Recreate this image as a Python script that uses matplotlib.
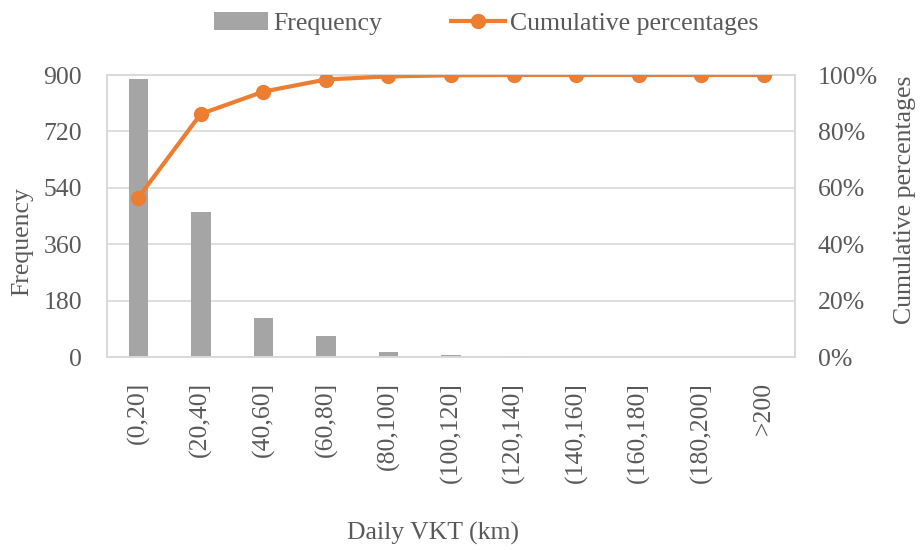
import numpy as np
import matplotlib.pyplot as plt
from matplotlib.ticker import FuncFormatter

categories = ['(0,20]', '(20,40]', '(40,60]', '(60,80]', '(80,100]', '(100,120]',
              '(120,140]', '(140,160]', '(160,180]', '(180,200]', '>200']
frequency = [887, 464, 124, 67, 17, 6, 2, 0, 0, 0, 0]
cumulative = [56.5, 86.2, 94.1, 98.4, 99.5, 99.9, 100, 100, 100, 100, 100]

plt.rcParams['font.family'] = ['Liberation Serif', 'DejaVu Serif']
grey_text = '#595959'
grid_col = '#d9d9d9'
fs = 18.5

W, H = 921, 550
fig = plt.figure(figsize=(W / 100, H / 100), dpi=100)
ax = fig.add_axes([107 / W, 1 - 357 / H, 688 / W, 282 / H])
x = np.arange(len(categories))

bars = ax.bar(x, frequency, width=0.31, color='#a5a5a5', label='Frequency', zorder=2)
ax.set_ylim(0, 900)
ax.set_yticks(np.arange(0, 901, 180))
ax.set_xlim(-0.5, len(categories) - 0.5)
ax.set_xticks(x)
ax.set_xticklabels(categories, rotation=90)
ax.grid(axis='y', color=grid_col, linewidth=1.2, zorder=0)

ax2 = ax.twinx()
line, = ax2.plot(x, cumulative, color='#ed7d31', linewidth=3, marker='o',
                 markersize=10, label='Cumulative percentages', zorder=3)
ax2.set_ylim(0, 100)
ax2.set_yticks(np.arange(0, 101, 20))
ax2.yaxis.set_major_formatter(FuncFormatter(lambda v, p: f'{int(v)}%'))

for a in (ax, ax2):
    a.tick_params(labelsize=fs, colors=grey_text, length=0)
    for s in a.spines.values():
        s.set_color(grid_col)
        s.set_linewidth(1.2)
ax.tick_params(axis='y', pad=18)
ax.tick_params(axis='x', pad=18)
ax2.tick_params(axis='y', pad=16.5)

# axis titles
fig.text(22 / W, 1 - 242 / H, 'Frequency', rotation=90, ha='center', va='center',
         fontsize=fs, color=grey_text)
fig.text(905 / W, 1 - 200 / H, 'Cumulative percentages', rotation=90, ha='center',
         va='center', fontsize=fs, color=grey_text)
fig.text(433 / W, 1 - 533 / H, 'Daily VKT (km)', ha='center', va='center',
         fontsize=fs, color=grey_text)

fig.legend(handles=[bars, line], loc='upper center', bbox_to_anchor=(0.528, 1.02),
           ncol=2, frameon=False, fontsize=fs, labelcolor=grey_text,
           handlelength=2.1, handletextpad=0.2, columnspacing=2.7)

fig.savefig('out.png', dpi=100)
